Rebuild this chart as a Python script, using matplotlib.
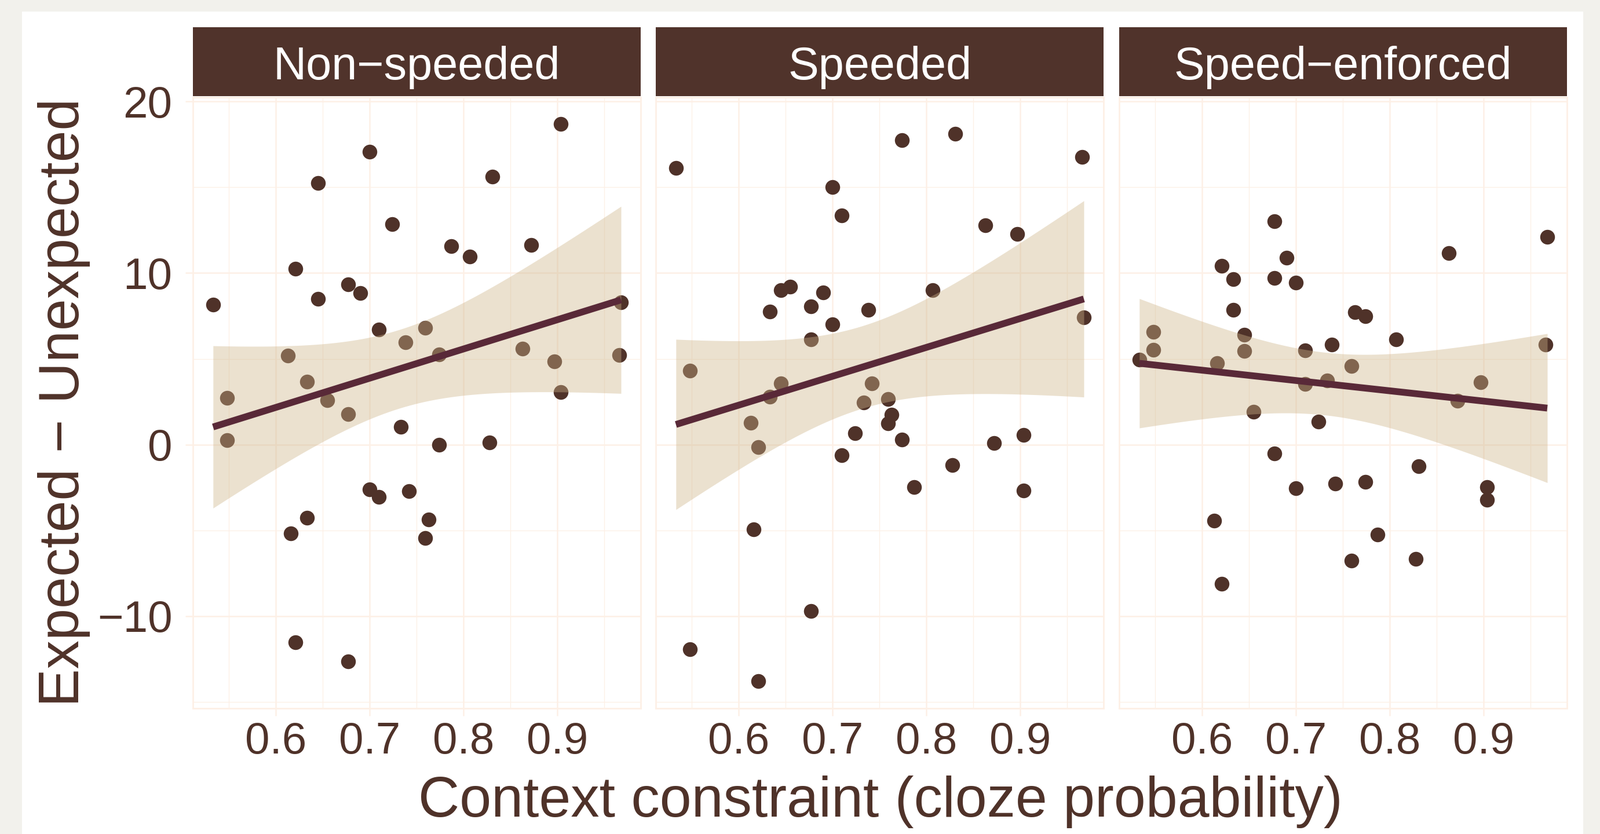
import numpy as np
import matplotlib.pyplot as plt
from matplotlib.patches import Rectangle
from matplotlib.ticker import MultipleLocator

plt.rcParams['font.family'] = ['Liberation Sans', 'DejaVu Sans']

# data (same 40 items in every condition)
conditions = ['Non−speeded', 'Speeded', 'Speed−enforced']

cloze = [0.533, 0.548, 0.548, 0.613, 0.616, 0.621, 0.621, 0.633, 0.633, 0.645,
         0.645, 0.655, 0.677, 0.677, 0.677, 0.690, 0.700, 0.700, 0.710, 0.710,
         0.724, 0.733, 0.738, 0.742, 0.759, 0.759, 0.763, 0.774, 0.774, 0.787,
         0.807, 0.828, 0.831, 0.863, 0.872, 0.897, 0.904, 0.904, 0.966, 0.968]

diff_nonspeeded = [8.14, 2.72, 0.26, 5.19, -5.16, 10.26, -11.53, 3.67, -4.28, 15.23,
                   8.51, 2.60, 9.33, 1.79, -12.65, 8.84, 17.07, -2.60, 6.72, -3.05,
                   12.84, 1.02, 5.95, -2.72, 6.79, -5.44, -4.35, 5.26, 0.00, 11.56,
                   10.95, 0.12, 15.60, 5.58, 11.63, 4.86, 18.70, 3.07, 5.23, 8.28]

diff_speeded = [16.12, 4.30, -11.93, 1.28, -4.93, -0.14, -13.77, 7.74, 2.79, 9.00,
                3.58, 9.21, 8.07, 6.14, -9.70, 8.88, 15.00, 7.00, 13.35, -0.63,
                0.67, 2.44, 7.84, 3.58, 2.65, 1.23, 1.74, 17.74, 0.28, -2.47,
                9.00, -1.19, 18.12, 12.79, 0.09, 12.26, 0.56, -2.67, 16.77, 7.40]

diff_enforced = [4.95, 6.56, 5.51, -4.44, 4.74, 10.42, -8.12, 9.65, 7.84, 6.40,
                 5.47, 1.91, 13.00, 9.72, -0.53, 10.88, 9.44, -2.53, 5.49, 3.53,
                 1.35, 3.72, 5.84, -2.28, 4.58, -6.77, 7.72, 7.47, -2.16, -5.23,
                 6.12, -6.67, -1.26, 11.16, 2.56, 3.63, -2.49, -3.23, 5.84, 12.12]

panel_data = [diff_nonspeeded, diff_speeded, diff_enforced]

dark = '#4f3229'
line_col = '#592938'
ribbon_col = '#cdb489'
grid_col = '#fdf0e6'
T_CRIT = 2.024  # t(0.975, df=38)

W, H = 2762, 1440
fig = plt.figure(figsize=(W / 200, H / 200), dpi=200)
fig.patch.set_facecolor('#f2f1ec')
fig.patches.append(Rectangle((38 / W, 0), (2733 - 38) / W, 1 - 20 / H,
                             transform=fig.transFigure, facecolor='white',
                             edgecolor='none', zorder=-1))

panel_x = [333, 1132, 1932]
panel_w = 773
y_top, y_bot = 168, 1223
strip_top, strip_bot = 47, 166

x = np.array(cloze)
for k, (name, vals) in enumerate(zip(conditions, panel_data)):
    y = np.array(vals)
    ax = fig.add_axes([panel_x[k] / W, 1 - y_bot / H, panel_w / W, (y_bot - y_top) / H])
    ax.set_facecolor('white')
    ax.set_xlim(0.5115, 0.989)
    ax.set_ylim(-15.37, 20.24)
    ax.xaxis.set_major_locator(MultipleLocator(0.1))
    ax.xaxis.set_minor_locator(MultipleLocator(0.05))
    ax.yaxis.set_major_locator(MultipleLocator(10))
    ax.yaxis.set_minor_locator(MultipleLocator(5))
    ax.grid(which='major', color=grid_col, linewidth=0.9, zorder=0)
    ax.grid(which='minor', color=grid_col, linewidth=0.5, zorder=0)
    ax.set_axisbelow(True)
    for sp in ax.spines.values():
        sp.set_color(grid_col)
        sp.set_linewidth(1.0)
    ax.tick_params(which='major', length=4.8, width=0.9, color=grid_col,
                   labelsize=27.5, labelcolor=dark, pad=3.5)
    ax.tick_params(which='minor', length=0)
    ax.tick_params(axis='y', pad=8)
    ax.xaxis.set_major_formatter(plt.FuncFormatter(lambda v, p: f'{v:.1f}'))
    if k > 0:
        ax.tick_params(axis='y', labelleft=False, length=0)

    ax.scatter(x, y, s=84, color=dark, linewidths=0, zorder=2)

    # linear fit with 95% confidence band
    n = len(x)
    b1, b0 = np.polyfit(x, y, 1)
    resid = y - (b0 + b1 * x)
    s = np.sqrt(np.sum(resid ** 2) / (n - 2))
    xs = np.linspace(x.min(), x.max(), 80)
    fit = b0 + b1 * xs
    se = s * np.sqrt(1 / n + (xs - x.mean()) ** 2 / np.sum((x - x.mean()) ** 2))
    ax.fill_between(xs, fit - T_CRIT * se, fit + T_CRIT * se, color=ribbon_col,
                    alpha=0.4, linewidth=0, zorder=3)
    ax.plot(xs, fit, color=line_col, linewidth=4.2, zorder=4,
            solid_capstyle='butt')

    sax = fig.add_axes([panel_x[k] / W, 1 - strip_bot / H, panel_w / W,
                        (strip_bot - strip_top) / H])
    sax.set_facecolor('#50332b')
    sax.set_xticks([])
    sax.set_yticks([])
    for sp in sax.spines.values():
        sp.set_visible(False)
    sax.text(0.5, (strip_bot - 137) / (strip_bot - strip_top), name, color='white',
             fontsize=28.5, ha='center', va='baseline', transform=sax.transAxes)

fig.text((333 + 2706) / 2 / W, 1 - 1410 / H, 'Context constraint (cloze probability)',
         fontsize=35.5, color=dark, ha='center', va='baseline')
fig.text(111 / W, 1 - 695 / H, 'Expected − Unexpected', fontsize=35.5, color=dark,
         ha='center', va='center', rotation=90)

fig.savefig('out.png', dpi=200, facecolor=fig.get_facecolor())
